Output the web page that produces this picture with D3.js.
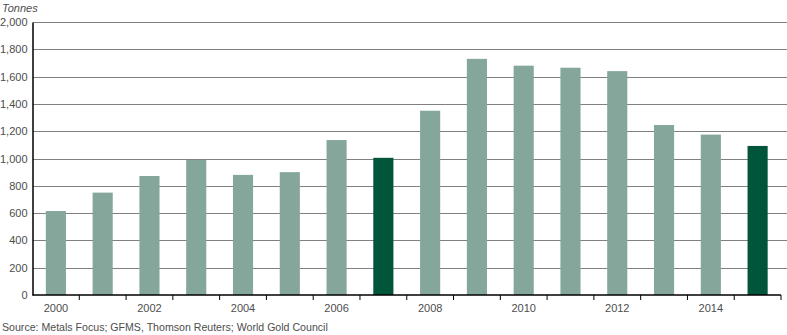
<!DOCTYPE html>
<html>
<head>
<meta charset="utf-8">
<script src="https://cdn.jsdelivr.net/npm/d3@7"></script>
<style>
  html, body { margin: 0; padding: 0; background: #fff; }
  svg { display: block; font-family: "Liberation Sans", Arial, sans-serif; }
</style>
</head>
<body>
<svg id="chart" width="787" height="335"></svg>
<script>
// Annual demand, tonnes
const years = [2000, 2001, 2002, 2003, 2004, 2005, 2006, 2007, 2008, 2009, 2010, 2011, 2012, 2013, 2014, 2015];
const tonnes = [615, 750, 872, 990, 880, 900, 1135, 1005, 1350, 1730, 1680, 1665, 1640, 1245, 1175, 1092];
const highlightYears = [2007, 2015];
const yTicks = [0, 200, 400, 600, 800, 1000, 1200, 1400, 1600, 1800, 2000];
const xLabelYears = [2000, 2002, 2004, 2006, 2008, 2010, 2012, 2014];

const svg = d3.select("#chart");
const plotLeft = 32.5, plotRight = 781, plotTop = 22, plotBottom = 295;

const x = d3.scaleBand().domain(years).range([plotLeft, plotRight]).paddingInner(0.57).paddingOuter(0.285);
const y = d3.scaleLinear().domain([0, 2000]).range([plotBottom, plotTop]);

const textColor = "#4d4d4d";

// Dotted gridlines
svg.append("g")
  .selectAll("line")
  .data(yTicks.filter(d => d > 0))
  .join("line")
  .attr("x1", plotLeft + 1).attr("x2", 787)
  .attr("y1", d => Math.round(y(d)) + 0.5).attr("y2", d => Math.round(y(d)) + 0.5)
  .attr("stroke", "#000").attr("stroke-width", 1).attr("stroke-dasharray", "1,1");

// Bars
svg.append("g")
  .selectAll("rect")
  .data(years.map((yr, i) => ({ yr, v: tonnes[i] })))
  .join("rect")
  .attr("x", d => x(d.yr))
  .attr("width", x.bandwidth())
  .attr("y", d => y(d.v))
  .attr("height", d => y(0) - y(d.v))
  .attr("fill", d => highlightYears.includes(d.yr) ? "#00553a" : "#85a69a");

// Y axis
const yAxis = d3.axisLeft(y).tickValues(yTicks).tickSize(0).tickPadding(5).tickFormat(d3.format(","));
const gy = svg.append("g").attr("transform", `translate(${plotLeft},0)`).call(yAxis);
gy.select(".domain").attr("stroke", "#000").attr("stroke-width", 1.5);
gy.selectAll("text").attr("fill", textColor).style("font-size", "11px");

// X axis: ticks at band boundaries, labels every other year
const gx = svg.append("g").attr("transform", `translate(0,${plotBottom})`);
gx.append("line").attr("x1", plotLeft).attr("x2", plotRight).attr("y1", 0).attr("y2", 0)
  .attr("stroke", "#000").attr("stroke-width", 1.5);
const step = x.step();
const boundaries = d3.range(years.length + 1).map(i => plotLeft + i * step);
gx.selectAll("line.tick")
  .data(boundaries.slice(1))
  .join("line").attr("class", "tick")
  .attr("x1", d => d).attr("x2", d => d).attr("y1", 0).attr("y2", 5)
  .attr("stroke", "#000").attr("stroke-width", 1);
gx.selectAll("text")
  .data(xLabelYears)
  .join("text")
  .attr("x", d => x(d) + x.bandwidth() / 2)
  .attr("y", 17)
  .attr("text-anchor", "middle")
  .attr("fill", textColor)
  .style("font-size", "11px")
  .text(d => d);

// Unit label
svg.append("text").attr("x", 2).attr("y", 12)
  .attr("fill", textColor).style("font-size", "11px").style("font-style", "italic")
  .text("Tonnes");

// Source line
svg.append("text").attr("x", 2).attr("y", 331)
  .attr("fill", textColor).style("font-size", "10.6px")
  .text("Source: Metals Focus; GFMS, Thomson Reuters; World Gold Council");
</script>
</body>
</html>
